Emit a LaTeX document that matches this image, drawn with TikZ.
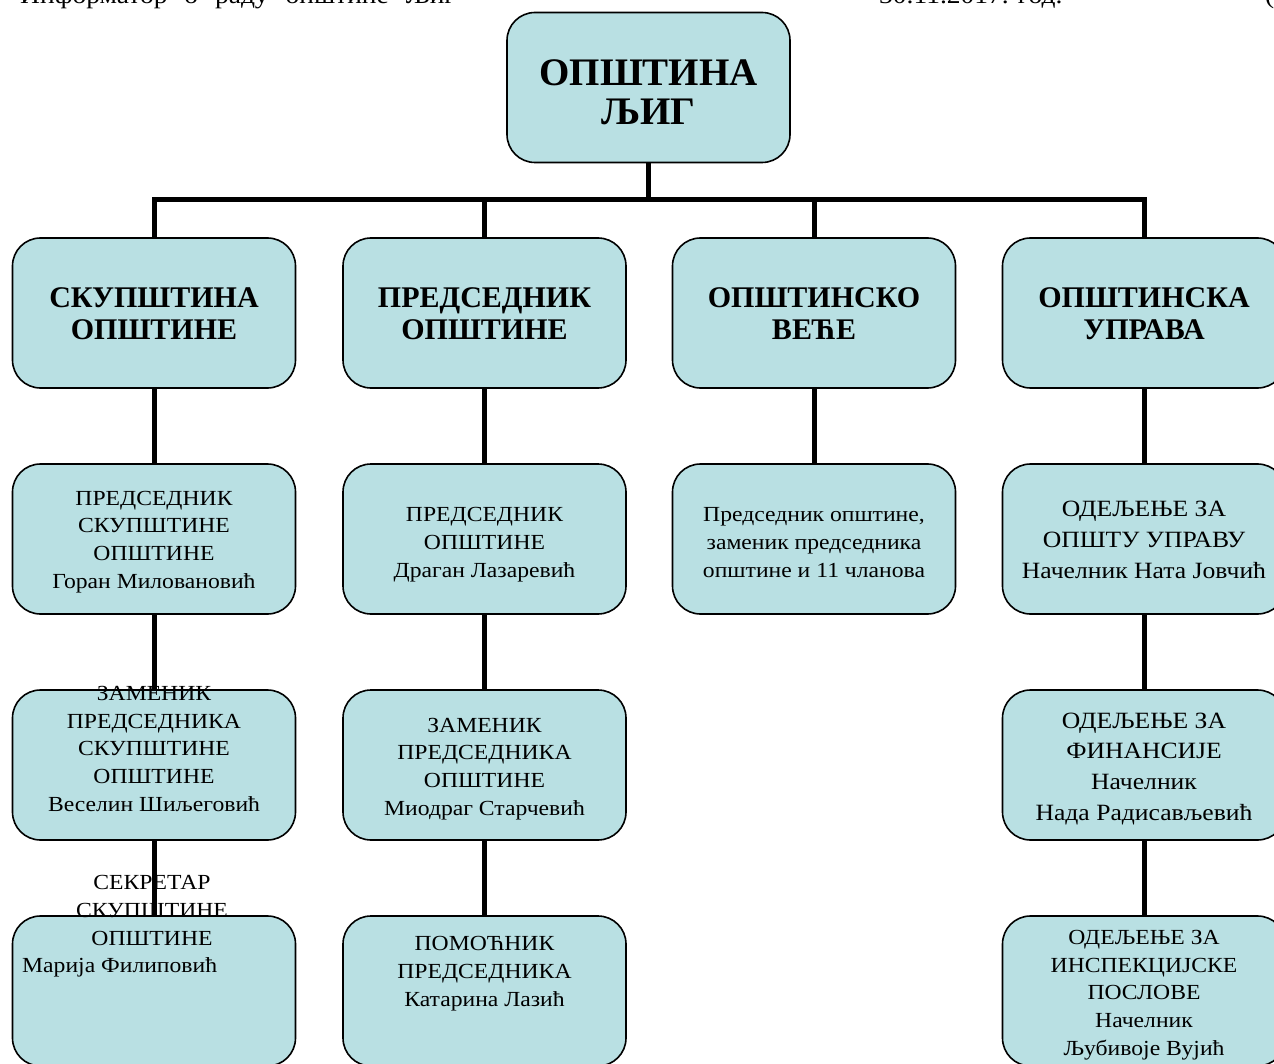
\documentclass[tikz,border=0pt]{standalone}
\usepackage{fontspec}
\setmainfont{Liberation Serif}
\newfontfamily\regf[FakeStretch=1.1]{Liberation Serif}
\definecolor{boxfill}{RGB}{185,224,227}
\begin{document}
\begin{tikzpicture}[x=1pt,y=-1pt,
  box/.style={draw=black, line width=1.6pt, fill=boxfill, rounded corners=28pt,
    minimum width=283pt, minimum height=150pt, inner sep=0pt},
  conn/.style={line width=5pt, draw=black},
  txt/.style={align=center, inner sep=0pt, anchor=base,
    font=\regf\fontsize{21.5}{27.6}\selectfont},
  txtw/.style={align=center, inner sep=0pt, anchor=base,
    font=\regf\fontsize{23.3}{30.6}\selectfont},
  txtb/.style={align=center, inner sep=0pt, anchor=base,
    font=\bfseries\fontsize{30}{32.7}\selectfont},
  txtt/.style={align=center, inner sep=0pt, anchor=base,
    font=\bfseries\fontsize{39}{39}\selectfont},
  hdr/.style={inner sep=0pt, anchor=base west,
    font=\regf\fontsize{25}{28}\selectfont}]
\useasboundingbox (0,0) rectangle (1274,1064);
\clip (0,0) rectangle (1274,1064);

% header (cut off at the top edge, as in the reference)
\node[hdr] (h1) at (20,4) {Информатор\hspace{10pt} о\hspace{10pt} раду\hspace{10pt} општине\hspace{10pt} Љиг};
\node[hdr] (h2) at (879,4) {30.11.2017. год.};
\node[hdr] (h3) at (1265,4) {(};

% boxes
\node[box] (top) at (648.5,87.5) {};
\foreach \c/\x in {1/154,2/484.5,3/814,4/1144}{
  \node[box] (r1c\c) at (\x,313) {};
}
\foreach \c/\x in {1/154,2/484.5,3/814,4/1144}{
  \node[box] (r2c\c) at (\x,539) {};
}
\foreach \c/\x in {1/154,2/484.5,4/1144}{
  \node[box] (r3c\c) at (\x,765) {};
  \node[box] (r4c\c) at (\x,991) {};
}

% texts (anchor = baseline of the last line)
\node[txtt] (ttop) at (648.5,125) {ОПШТИНА\\ЉИГ};
\node[txtb] (t1c1) at (154,340) {СКУПШТИНА\\ОПШТИНЕ};
\node[txtb] (t1c2) at (484.5,340) {ПРЕДСЕДНИК\\ОПШТИНЕ};
\node[txtb] (t1c3) at (814,340) {ОПШТИНСКО\\ВЕЋЕ};
\node[txtb] (t1c4) at (1144,340) {ОПШТИНСКА\\УПРАВА};

\node[txt] (t2c1) at (154,588) {ПРЕДСЕДНИК\\СКУПШТИНЕ\\ОПШТИНЕ\\Горан Миловановић};
\node[txt] (t2c2) at (484.5,577) {ПРЕДСЕДНИК\\ОПШТИНЕ\\Драган Лазаревић};
\node[txt] (t2c3) at (814,577) {Председник општине,\\заменик председника\\општине и 11 чланова};
\node[txtw] (t2c4) at (1144,578) {ОДЕЉЕЊЕ ЗА\\ОПШТУ УПРАВУ\\Начелник Ната Јовчић};

\node[txt] (t3c1) at (154,811) {ЗАМЕНИК\\ПРЕДСЕДНИКА\\СКУПШТИНЕ\\ОПШТИНЕ\\Веселин Шиљеговић};
\node[txt] (t3c2) at (484.5,815) {ЗАМЕНИК\\ПРЕДСЕДНИКА\\ОПШТИНЕ\\Миодраг Старчевић};
\node[txtw] (t3c4) at (1144,820) {ОДЕЉЕЊЕ ЗА\\ФИНАНСИЈЕ\\Начелник\\Нада Радисављевић};

\node[txt] (t4c1) at (152,945) {СЕКРЕТАР\\СКУПШТИНЕ\\ОПШТИНЕ};
\node[txt, anchor=base west] (t4c1b) at (22,972.5) {Марија Филиповић};
\node[txt] (t4c2) at (484.5,1006) {ПОМОЋНИК\\ПРЕДСЕДНИКА\\Катарина Лазић};
\node[txt] (t4c4) at (1144,1055) {ОДЕЉЕЊЕ ЗА\\ИНСПЕКЦИЈСКЕ\\ПОСЛОВЕ\\Начелник\\Љубивоје Вујић};

% connectors
\coordinate (bar) at (648.5,200);
\draw[conn] (top.south) -- (bar);
\draw[conn, line join=miter] (r1c1.north) |- (bar);
\draw[conn, line join=miter] (r1c4.north) |- (bar);
\draw[conn] (r1c2.north) -- (r1c2.north |- bar);
\draw[conn] (r1c3.north) -- (r1c3.north |- bar);
\foreach \c in {1,2,3,4}{
  \draw[conn] (r1c\c.south) -- (r2c\c.north);
}
\foreach \c in {1,2,4}{
  \draw[conn] (r2c\c.south) -- (r3c\c.north);
  \draw[conn] (r3c\c.south) -- (r4c\c.north);
}
\end{tikzpicture}
\end{document}
